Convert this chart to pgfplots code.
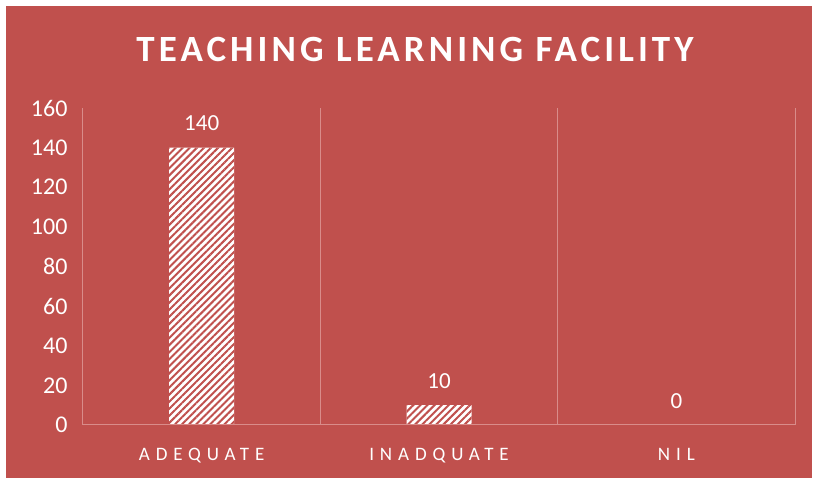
\documentclass[border=0pt]{standalone}
\usepackage{pgfplots}
\pgfplotsset{compat=1.18}
\usepackage{fontspec}
\setmainfont{Carlito}
\newfontfamily\titlefont[LetterSpace=11]{Carlito}
\newfontfamily\catfont[LetterSpace=31]{Carlito}
\usetikzlibrary{patterns.meta}
\definecolor{bgred}{RGB}{192,80,77}
\definecolor{gridc}{RGB}{217,140,138}
\begin{document}
\begin{tikzpicture}[x=1pt,y=1pt]
\path[use as bounding box,fill=white] (0,0) rectangle (815,479);
\fill[bgred] (6,1) rectangle (812,473);
\node[text=white,font=\titlefont\fontsize{37}{42}\selectfont\bfseries] at (415,429) {TEACHING LEARNING FACILITY};
\begin{axis}[
  at={(83pt,54pt)}, anchor=south west,
  scale only axis, width=712pt, height=317pt,
  xmin=0, xmax=3, ymin=0, ymax=160,
  ytick={0,20,...,160},
  xtick={0.5,1.5,2.5},
  xticklabels={ADEQUATE,INADQUATE,NIL},
  xticklabel style={font=\catfont\fontsize{19}{22}\selectfont, text=white, yshift=-20pt},
  yticklabel style={font=\fontsize{24}{28}\selectfont, text=white, xshift=-12pt},
  /pgf/number format/assume math mode=true,
  major tick length=0pt,
  axis line style={draw=none},
  extra x ticks={0,1,2,3},
  extra x tick labels={},
  extra x tick style={grid=major, major grid style={gridc, line width=1pt}},
  ybar, bar width=65pt, bar shift=0pt,
  nodes near coords,
  every node near coord/.append style={font=\fontsize{23}{26}\selectfont, text=white, yshift=13pt},
  clip=false,
]
\addplot[draw=none, fill=white, postaction={pattern={Lines[angle=45,distance=5pt,line width=2pt]}, pattern color=bgred}] coordinates {(0.5,140) (1.5,10) (2.5,0)};
\draw[gridc, line width=1pt] (axis cs:0,0) -- (axis cs:3,0);
\end{axis}
\end{tikzpicture}
\end{document}
